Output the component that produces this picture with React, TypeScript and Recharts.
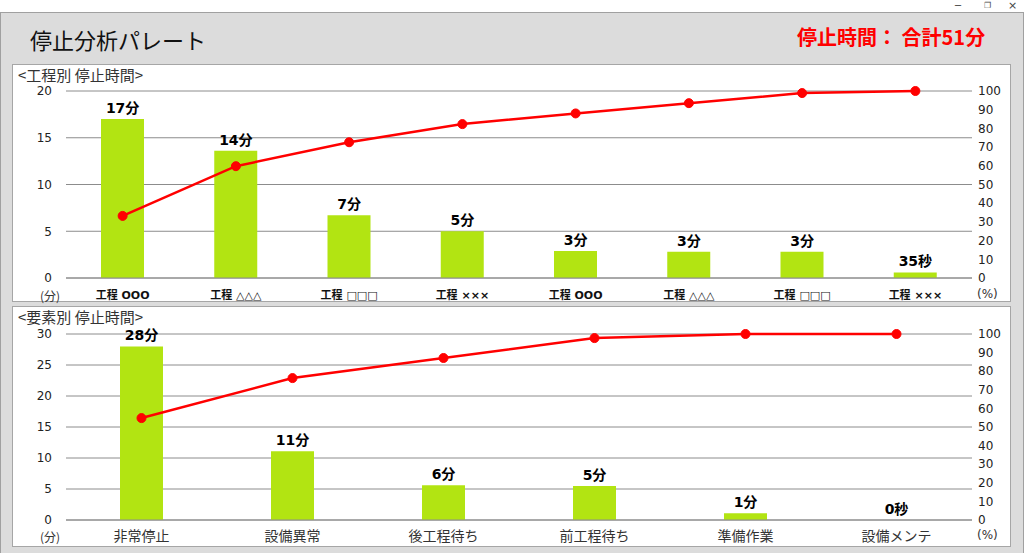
import React from 'react';
import { ComposedChart, Bar, Line, XAxis, YAxis, CartesianGrid, LabelList } from 'recharts';

const processCats = ['工程 OOO', '工程 △△△', '工程 □□□', '工程 ×××', '工程 OOO', '工程 △△△', '工程 □□□', '工程 ×××'];
const processMinutes = [17, 13.6, 6.7, 5.0, 2.9, 2.8, 2.8, 0.6];
const processLabels = ['17分', '14分', '7分', '5分', '3分', '3分', '3分', '35秒'];
const processCumPct = [33.2, 59.8, 72.6, 82.3, 88.0, 93.5, 98.9, 100];

const factorCats = ['非常停止', '設備異常', '後工程待ち', '前工程待ち', '準備作業', '設備メンテ'];
const factorMinutes = [28.0, 11.1, 5.6, 5.5, 1.1, 0];
const factorLabels = ['28分', '11分', '6分', '5分', '1分', '0秒'];
const factorCumPct = [54.8, 76.3, 87.1, 97.8, 100, 100];

const leftTicksTop = [0, 5, 10, 15, 20];
const leftTicksBottom = [0, 5, 10, 15, 20, 25, 30];
const pctTicks = [0, 10, 20, 30, 40, 50, 60, 70, 80, 90, 100];

const processData = processCats.map((c, i) => ({ idx: i, cat: c, v: processMinutes[i], label: processLabels[i], cum: processCumPct[i] }));
const factorData = factorCats.map((c, i) => ({ idx: i, cat: c, v: factorMinutes[i], label: factorLabels[i], cum: factorCumPct[i] }));

const NUM_FONT = "'DejaVu Sans', 'Noto Sans CJK JP', sans-serif";
const JP_FONT = "'Noto Sans CJK JP', sans-serif";
const BAR_COLOR = '#b2e412';
const GRID = '#8c8c8c';

function makeTick(cats: string[], bold: boolean, size: number, font: string, color: string) {
  return (props: any) => {
    const { x, y, payload } = props;
    return (
      <text x={x} y={y} dy={21} textAnchor="middle" fontSize={size} fontFamily={font} fontWeight={bold ? 'bold' : 'normal'} fill={color}>
        {cats[payload.value]}
      </text>
    );
  };
}

function Panel(props: {
  top: number; height: number; data: any[]; cats: string[]; leftMax: number; leftTicks: number[];
  title: string; xBold: boolean; xSize: number; xFont: string; xColor: string; marginTop: number; xHeight: number;
}) {
  const { top, height, data, cats, leftMax, leftTicks, title } = props;
  return (
    <>
      <div style={{ position: 'absolute', left: 12, top, width: 997, height: height - 2, background: '#fff', border: '1px solid #a6a6a6' }} />
      <div style={{ position: 'absolute', left: 18, top: top + 1, fontSize: 15, fontFamily: JP_FONT, color: '#333', lineHeight: '20px' }}>{title}</div>
      <div style={{ position: 'absolute', left: 0, top }}>
        <ComposedChart width={1024} height={height} data={data} margin={{ top: props.marginTop, right: 6, bottom: 4, left: 10 }}>
          <CartesianGrid yAxisId="left" vertical={false} horizontal={true} stroke={GRID} strokeWidth={1} />
          <XAxis dataKey="idx" type="category" axisLine={{ stroke: GRID }} tickLine={false} tickSize={0} tickMargin={0} height={props.xHeight}
            interval={0} tick={makeTick(cats, props.xBold, props.xSize, props.xFont, props.xColor)} />
          <YAxis yAxisId="left" orientation="left" width={56} domain={[0, leftMax]} ticks={leftTicks} axisLine={false} tickLine={false}
            tickSize={0} tickMargin={14} tick={{ fontSize: 12, fontFamily: NUM_FONT, fill: '#222' }} interval={0} />
          <YAxis yAxisId="right" orientation="right" width={46} domain={[0, 100]} ticks={pctTicks} axisLine={false} tickLine={false}
            tickSize={0} tickMargin={6} tick={{ fontSize: 12, fontFamily: NUM_FONT, fill: '#222', textAnchor: 'start' }} interval={0} />
          <Bar yAxisId="left" dataKey="v" fill={BAR_COLOR} barSize={43} isAnimationActive={false} />
          <Line yAxisId="left" dataKey="v" type="linear" stroke="none" dot={false} activeDot={false} isAnimationActive={false} legendType="none">
            <LabelList dataKey="label" position="top" offset={6} fill="#000" fontSize={14} fontWeight="bold" fontFamily={NUM_FONT} />
          </Line>
          <Line yAxisId="right" dataKey="cum" type="linear" stroke="#ff0000" strokeWidth={2.5}
            dot={{ r: 4.5, fill: '#ff0000', stroke: '#ff0000', strokeWidth: 1 }} isAnimationActive={false} />
        </ComposedChart>
      </div>
    </>
  );
}

export default function App() {
  return (
    <div style={{ position: 'fixed', left: 0, top: 0, width: 1024, height: 553, background: '#fff', overflow: 'hidden' }}>
      <div style={{ position: 'absolute', left: 955, top: 0, fontSize: 10, lineHeight: '11px', color: '#444', fontFamily: NUM_FONT }}>─</div>
      <div style={{ position: 'absolute', left: 984, top: 1, fontSize: 8, lineHeight: '10px', color: '#444', fontFamily: NUM_FONT }}>❐</div>
      <div style={{ position: 'absolute', left: 1008, top: 0, fontSize: 11, lineHeight: '11px', color: '#444', fontFamily: NUM_FONT }}>×</div>
      <div style={{ position: 'absolute', left: 0, top: 12, width: 1022, height: 541, background: '#dcdcdc', borderTop: '1px solid #a0a0a0', borderLeft: '1px solid #a0a0a0', borderRight: '1px solid #a0a0a0' }} />
      <div style={{ position: 'absolute', left: 30, top: 23, fontSize: 22, fontFamily: JP_FONT, color: '#111', lineHeight: '32px' }}>停止分析パレート</div>
      <div style={{ position: 'absolute', left: 797, top: 23, fontSize: 20, fontWeight: 'bold', fontFamily: JP_FONT, color: '#ff0000', lineHeight: '28px' }}>停止時間： 合計51分</div>

      <Panel top={64} height={238} data={processData} cats={processCats} leftMax={20} leftTicks={leftTicksTop}
        title="<工程別 停止時間>" xBold={true} xSize={11} xFont={NUM_FONT} xColor="#111" marginTop={27} xHeight={20} />
      <Panel top={306} height={241} data={factorData} cats={factorCats} leftMax={30} leftTicks={leftTicksBottom}
        title="<要素別 停止時間>" xBold={false} xSize={14} xFont={JP_FONT} xColor="#333" marginTop={28} xHeight={23} />

      <div style={{ position: 'absolute', left: 40, top: 287, fontSize: 12, fontFamily: JP_FONT, color: '#333' }}>(分)</div>
      <div style={{ position: 'absolute', left: 977, top: 287, fontSize: 12, fontFamily: NUM_FONT, color: '#333' }}>(%)</div>
      <div style={{ position: 'absolute', left: 40, top: 528, fontSize: 12, fontFamily: JP_FONT, color: '#333' }}>(分)</div>
      <div style={{ position: 'absolute', left: 977, top: 528, fontSize: 12, fontFamily: NUM_FONT, color: '#333' }}>(%)</div>
    </div>
  );
}
